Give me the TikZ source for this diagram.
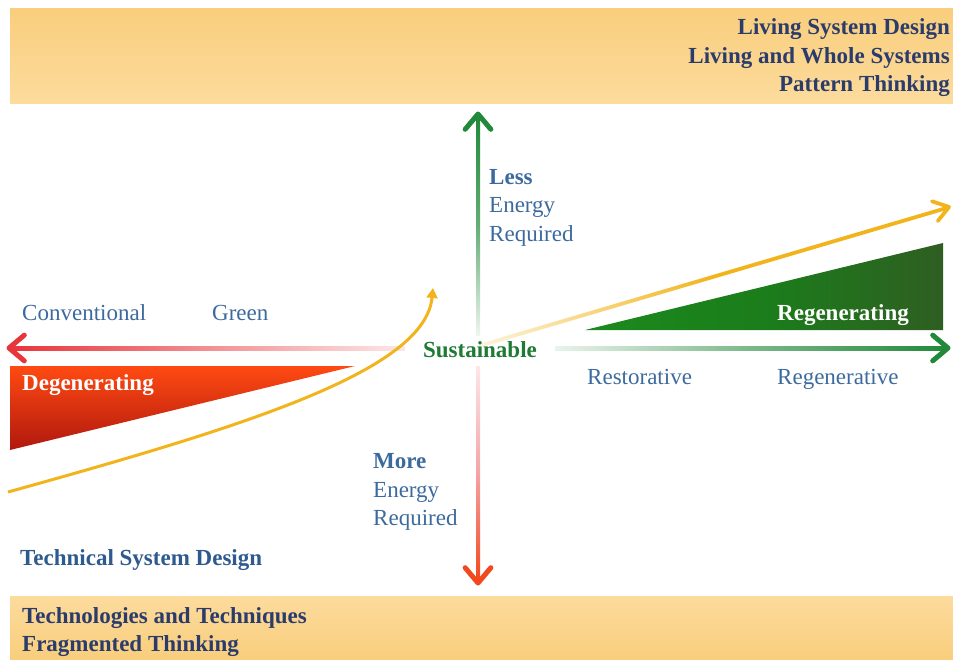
\documentclass[tikz,border=0pt]{standalone}
\usepackage{fontspec}
\setmainfont{Liberation Serif}
\usetikzlibrary{calc}
\usetikzlibrary{arrows.meta}

\definecolor{bandtop}{HTML}{F9CE7D}
\definecolor{bandbot}{HTML}{FCDB9C}
\definecolor{navy}{HTML}{2B3C6B}
\definecolor{lblue}{HTML}{3D6A9E}
\definecolor{tblue}{HTML}{2E5A8E}
\definecolor{axgrn}{HTML}{23893A}
\definecolor{axred}{HTML}{E8353B}
\definecolor{axorg}{HTML}{F2481E}
\definecolor{ylw}{HTML}{F2B41C}
\definecolor{susgrn}{HTML}{1F7A34}
\definecolor{degtop}{HTML}{FF4A12}
\definecolor{degbot}{HTML}{B0180E}
\definecolor{regl}{HTML}{1C8A1C}
\definecolor{regm}{HTML}{1B7D1B}
\definecolor{regr}{HTML}{2F5E22}

\tikzset{
  every node/.style={font=\fontsize{23}{28}\selectfont, inner sep=0pt},
  hdr/.style={text=navy, font=\fontsize{23}{28}\selectfont\bfseries},
  lbl/.style={text=lblue},
  chev/.style={line width=5pt, line cap=round, line join=round},
}

\begin{document}
\begin{tikzpicture}[x=1pt,y=-1pt]
  \useasboundingbox (0,0) rectangle (953,659);
  % bands
  \shade[top color=bandtop, bottom color=bandbot] (10,8) rectangle (953,103);
  \shade[top color=bandbot, bottom color=bandtop] (10,596) rectangle (953,659);

  % axes
  \coordinate (O) at (478,348);
  \coordinate (up) at (478,114);
  \coordinate (dn) at (478,583);
  \coordinate (lt) at (9,348);
  \coordinate (rt) at (948,348);
  \shade[top color=axgrn, bottom color=axgrn!8, middle color=axgrn!70] (476,118) rectangle (480,335);
  \draw[chev, axgrn] ($(up)!20pt!40:(O)$) -- (up) -- ($(up)!20pt!-40:(O)$);
  \shade[top color=axred!12, bottom color=axorg, middle color=axred!45] (476,366) rectangle (480,579);
  \draw[chev, axorg] ($(dn)!20pt!40:(O)$) -- (dn) -- ($(dn)!20pt!-40:(O)$);
  \shade[left color=axred, right color=axred!12, middle color=axred!55] (13,346) rectangle (405,350);
  \draw[chev, axred] ($(lt)!20pt!40:(O)$) -- (lt) -- ($(lt)!20pt!-40:(O)$);
  \shade[left color=axgrn!10, right color=axgrn, middle color=axgrn!60] (555,346) rectangle (944,350);
  \draw[chev, axgrn] ($(rt)!20pt!40:(O)$) -- (rt) -- ($(rt)!20pt!-40:(O)$);

  % wedges
  \shade[top color=degtop, bottom color=degbot] (10,366) -- (355,366) -- (10,450) -- cycle;
  \shade[left color=regl, right color=regr, middle color=regm] (585,330) -- (943,330) -- (943,243) -- cycle;

  % yellow trends
  \coordinate (ys) at (482,345);
  \coordinate (yt) at (949,207);
  \begin{scope}[shift={(ys)}, rotate=16.43]
    \shade[left color=ylw!15, right color=ylw, middle color=ylw] (0,-1.9) rectangle (484,1.9);
  \end{scope}
  \draw[chev, ylw, line width=3.8pt] ($(yt)!18pt!35:(ys)$) -- (yt) -- ($(yt)!18pt!-35:(ys)$);
  \draw[ylw, line width=3pt, -{Triangle[length=10pt,width=11pt]}] (8,492) .. controls (250,425) and (425,370) .. (433,288);

  % labels
  \node[hdr, anchor=base east] (lsd) at (950,34) {Living System Design};
  \node[hdr, anchor=base east] (lws) at (950,63) {Living and Whole Systems};
  \node[hdr, anchor=base east] (pth) at (950,91) {Pattern Thinking};

  \node[lbl, anchor=base west] (less) at (489,184) {\textbf{Less}};
  \node[lbl, anchor=base west] (enl) at (489,212) {Energy};
  \node[lbl, anchor=base west] (reql) at (489,241) {Required};

  \node[lbl, anchor=base west] (more) at (373,468) {\textbf{More}};
  \node[lbl, anchor=base west] (enm) at (373,497) {Energy};
  \node[lbl, anchor=base west] (reqm) at (373,525) {Required};

  \node[lbl, anchor=base west] (conv) at (22,320) {Conventional};
  \node[lbl, anchor=base west] (grn) at (212,320) {Green};
  \node[lbl, anchor=base west] (rest) at (587,384) {Restorative};
  \node[lbl, anchor=base west] (regv) at (777,384) {Regenerative};

  \node[text=susgrn, font=\fontsize{23}{28}\selectfont\bfseries, anchor=base] (sus) at (480,357) {Sustainable};
  \node[text=white, font=\fontsize{23}{28}\selectfont\bfseries, anchor=base west] (degen) at (22,390) {Degenerating};
  \node[text=white, font=\fontsize{23}{28}\selectfont\bfseries, anchor=base west] (regen) at (777,320) {Regenerating};

  \node[hdr, text=tblue, anchor=base west] (tsd) at (20,565) {Technical System Design};
  \node[hdr, anchor=base west] (tat) at (22,623) {Technologies and Techniques};
  \node[hdr, anchor=base west] (fth) at (22,651) {Fragmented Thinking};
\end{tikzpicture}
\end{document}
